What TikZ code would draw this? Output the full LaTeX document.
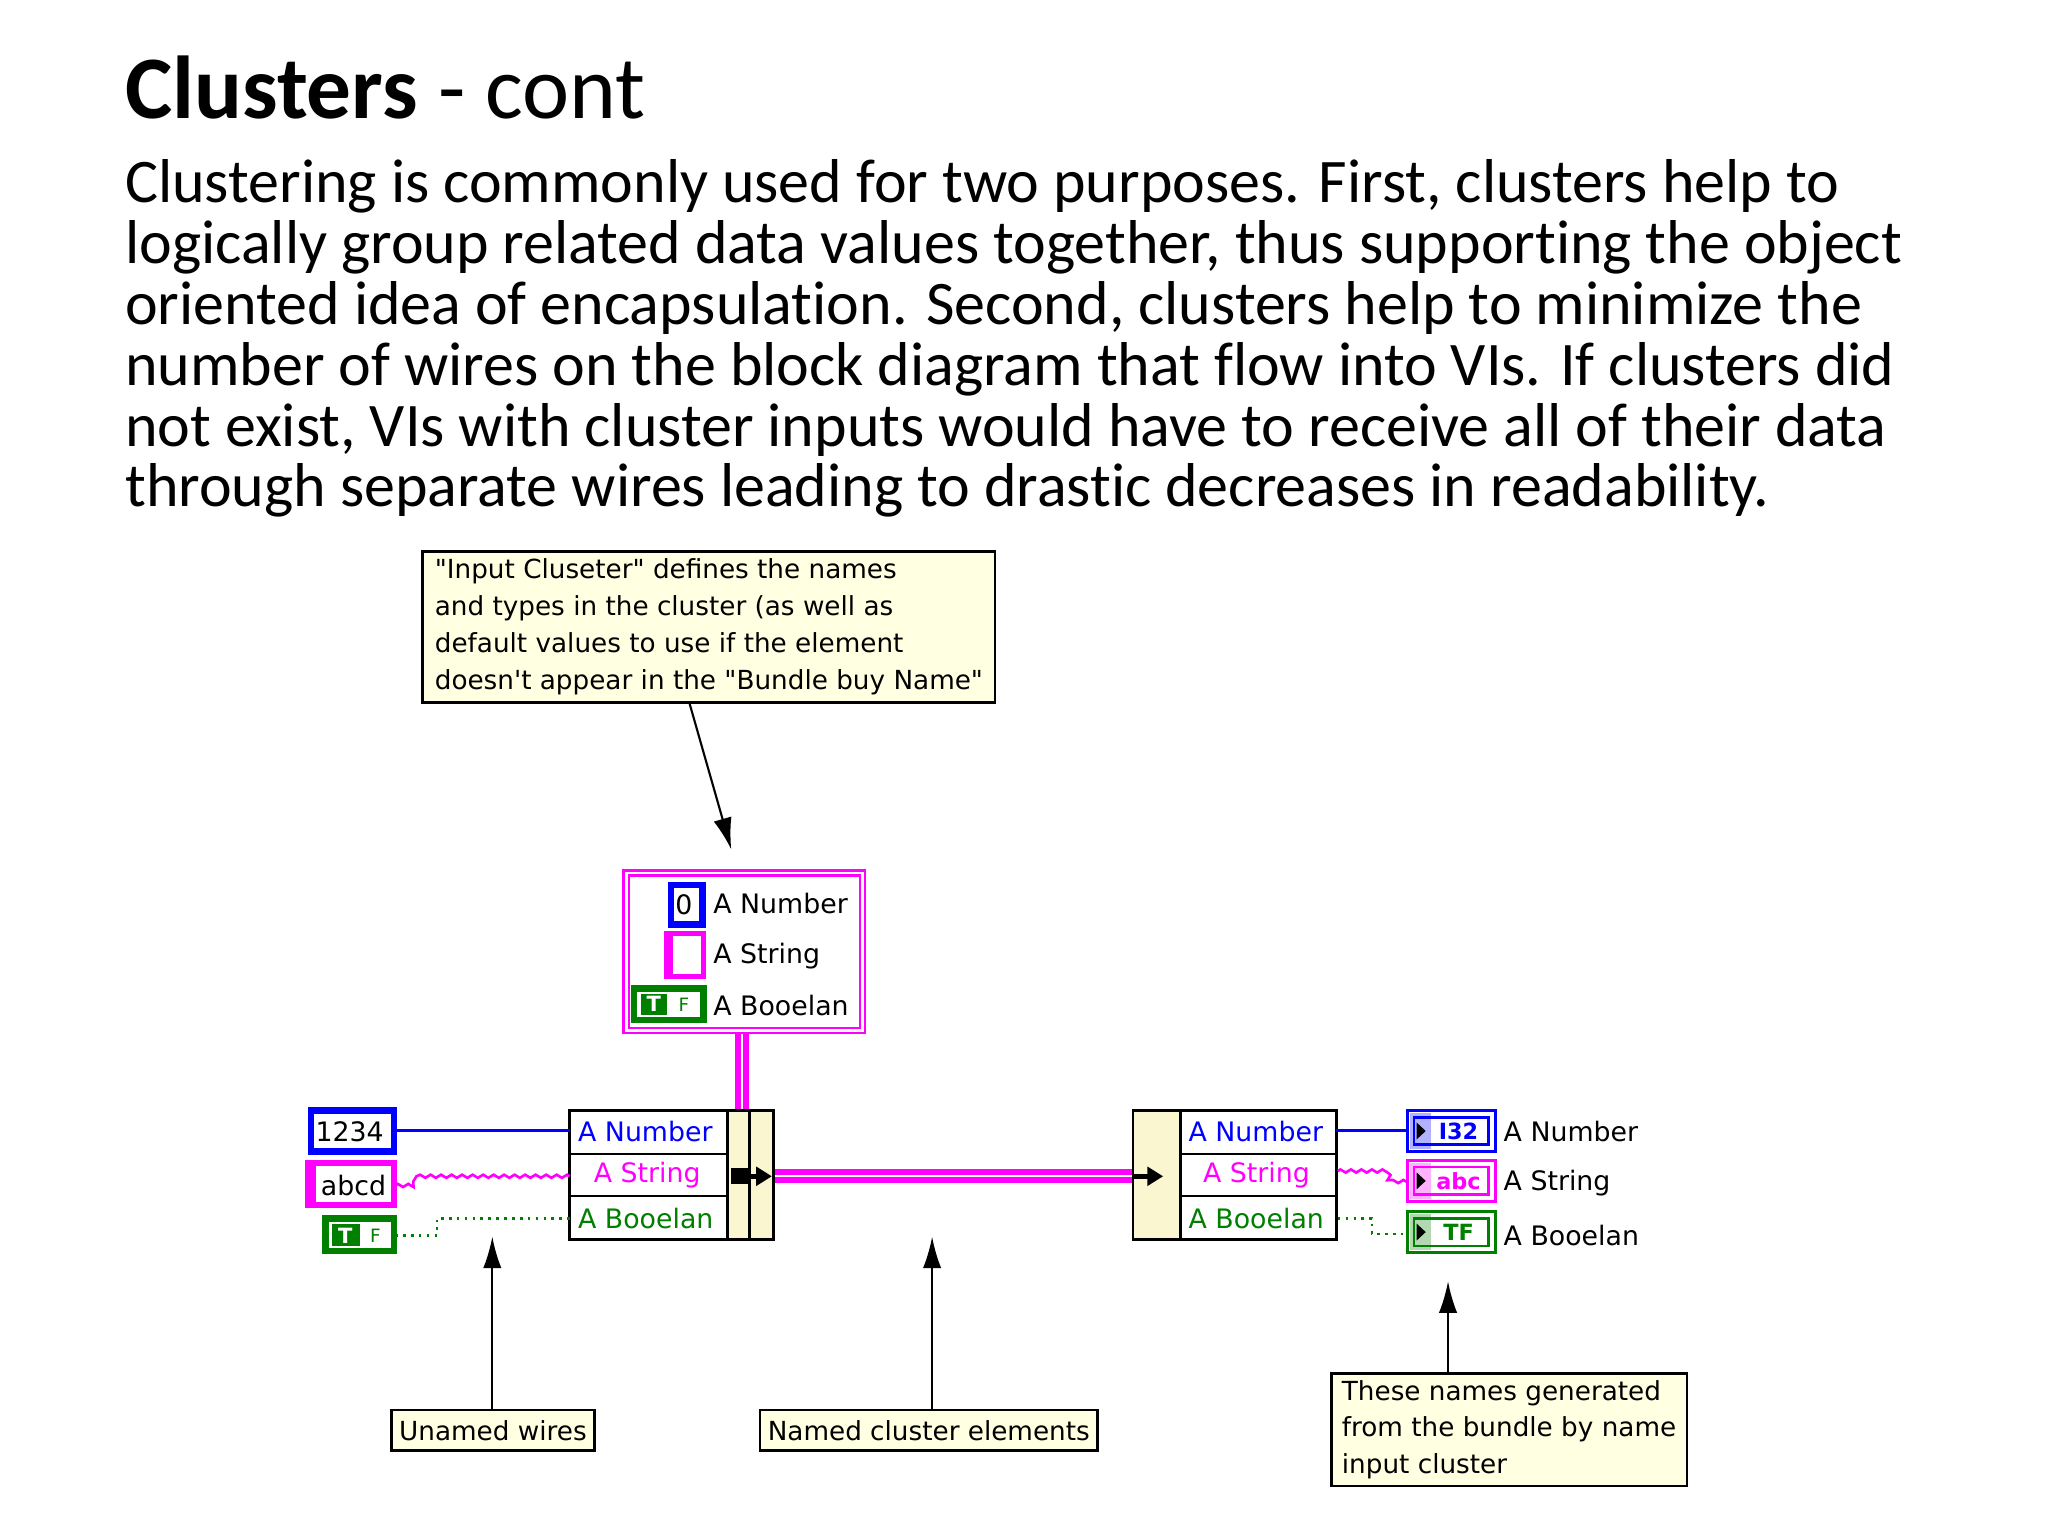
\documentclass[tikz,border=0pt]{standalone}
\usepackage{fontspec}
\setmainfont[Ligatures={NoCommon}]{Carlito}
\newfontfamily\lvfont{DejaVu Sans}
\usetikzlibrary{arrows.meta,decorations.pathmorphing}
\definecolor{cy}{HTML}{FFFFE1}
\definecolor{col}{HTML}{FAF7D0}
\definecolor{mg}{HTML}{FF00FF}
\definecolor{bl}{HTML}{0000FF}
\definecolor{gr}{HTML}{007F00}
\begin{document}
\begin{tikzpicture}[x=0.5pt,y=-0.5pt,
  call/.style={draw=black,fill=cy,line width=1pt,inner sep=1.5pt,align=left,font=\lvfont\fontsize{10}{14}\selectfont,anchor=north west},
  lbl/.style={inner sep=0pt,anchor=west,font=\lvfont\fontsize{10.2}{12}\selectfont},
  ar/.style={line width=0.8pt,-{Latex[length=12pt,width=7pt]}},
  box/.style={line width=1pt,draw=black},
  mwire/.style={draw=mg,line width=2.2pt,double=white,double distance=0.8pt},
  ]
\useasboundingbox (0,0) rectangle (1560,1170);
% text
\node[anchor=north west,inner sep=0pt,font=\fontsize{34}{40}\selectfont] (title) at (95,42) {\textbf{Clusters} - cont};
\node[anchor=north west,inner sep=0pt,align=left,font=\fontsize{23.6}{23.2}\selectfont] (body) at (95,121) {Clustering is commonly used for two purposes. First, clusters help to\\logically group related data values together, thus supporting the object\\oriented idea of encapsulation. Second, clusters help to minimize the\\number of wires on the block diagram that flow into VIs. If clusters did\\not exist, VIs with cluster inputs would have to receive all of their data\\through separate wires leading to drastic decreases in readability.};
% top callout
\node[call,minimum width=218pt,minimum height=57.5pt] (c1) at (321,419) {"Input Cluseter" defines the names\\and types in the cluster (as well as\\default values to use if the element\\doesn't appear in the "Bundle buy Name"};
\coordinate (c1t) at (557,647);
\draw[ar] (525,535) -- (c1t);
% input cluster
\draw[mg,line width=1pt] (475,663) rectangle (659,787);
\draw[mg,line width=1pt] (479,667) rectangle (655,783);
\draw[bl,line width=2.5pt,fill=white] (511,674) rectangle (535,704);
\node[lbl] at (514,689) {0};
\draw[mg,line width=2pt,fill=white] (508,711) rectangle (536,744);
\fill[mg] (507,710) rectangle (513,745);
\draw[gr,line width=2.5pt,fill=white] (483,753) rectangle (536,777);
\fill[gr] (488,757) rectangle (508,773);
\node[inner sep=0pt,text=white,font=\lvfont\bfseries\fontsize{8}{8}\selectfont] at (498,765) {T};
\node[inner sep=0pt,text=gr,font=\lvfont\fontsize{7}{7}\selectfont] at (521,765) {F};
\node[lbl] (in1) at (543,688) {A Number};
\node[lbl] (in2) at (543,728) {A String};
\node[lbl] (in3) at (543,766) {A Booelan};
% cluster wire down
\draw[mwire] (565,788) -- (565,846);
% left bundle
\draw[box,fill=white] (434,846) rectangle (554,944);
\draw[box] (434,879) -- (554,879) (434,911) -- (554,911);
\draw[box,fill=col] (554,846) rectangle (571,944);
\draw[box,fill=col] (571,846) rectangle (589,944);
\node[lbl,text=bl] at (440,862) {A Number};
\node[lbl,text=mg] at (452,895) {A String};
\node[lbl,text=gr] at (440,928) {A Booelan};
\fill (557,890) rectangle (571,902);
\draw[line width=2pt,-{Triangle[length=6pt,width=7pt]}] (571,896) -- (588,896);
% constants
\draw[bl,line width=2.5pt,fill=white] (237,846) rectangle (300,877);
\node[lbl] at (240,862) {1234};
\draw[mg,line width=2.5pt,fill=white] (235,886) rectangle (300,918);
\fill[mg] (234,885) rectangle (241,919);
\node[lbl] at (244,903) {abcd};
\draw[gr,line width=2.5pt,fill=white] (248,928) rectangle (300,953);
\fill[gr] (253,932) rectangle (274,949);
\node[inner sep=0pt,text=white,font=\lvfont\bfseries\fontsize{8}{8}\selectfont] at (263,941) {T};
\node[inner sep=0pt,text=gr,font=\lvfont\fontsize{7}{7}\selectfont] at (286,941) {F};
% left wires
\draw[bl,line width=1pt] (301,861) -- (434,861);
\draw[mg,line width=1pt,decorate,decoration={zigzag,segment length=4pt,amplitude=0.6pt}] (301,903) -- (316,903) -- (316,896) -- (434,896);
\draw[gr,line width=1pt,dotted] (301,941) -- (333,941) -- (333,928) -- (434,928);
% main cluster wire
\draw[mwire] (590,896) -- (864,896);
% right unbundle
\draw[box,fill=col] (863,846) rectangle (899,944);
\draw[line width=2pt,-{Triangle[length=6pt,width=7pt]}] (864,896) -- (886,896);
\draw[box,fill=white] (899,846) rectangle (1018,944);
\draw[box] (899,879) -- (1018,879) (899,911) -- (1018,911);
\node[lbl,text=bl] at (905,862) {A Number};
\node[lbl,text=mg] at (916,895) {A String};
\node[lbl,text=gr] at (905,928) {A Booelan};
% indicators
\foreach \y/\c/\t in {846/bl/I32,884/mg/abc,923/gr/TF}{
  \draw[\c,line width=1pt] (1072,\y) rectangle (1139,\y+31);
  \draw[\c,line width=1pt] (1077,\y+5) rectangle (1134,\y+26);
  \fill[\c,opacity=0.3] (1074,\y+2) rectangle (1090,\y+29);
  \fill (1079,\y+9) -- (1086,\y+15.5) -- (1079,\y+22) -- cycle;
  \node[inner sep=0pt,text=\c,font=\lvfont\bfseries\fontsize{8.5}{8.5}\selectfont] at (1111,\y+15.5) {\t};
}
\node[lbl] at (1145,862) {A Number};
\node[lbl] at (1145,901) {A String};
\node[lbl] at (1145,941) {A Booelan};
\draw[bl,line width=1pt] (1018,861) -- (1072,861);
\draw[mg,line width=1pt,decorate,decoration={zigzag,segment length=4pt,amplitude=0.6pt}] (1019,892) -- (1058,892) -- (1058,900) -- (1072,900);
\draw[gr,line width=1pt,dotted] (1019,928) -- (1045,928) -- (1045,940) -- (1072,940);
% bottom callouts
\node[call,minimum width=77.5pt,minimum height=15.5pt,inner sep=1pt] (c2) at (297,1073) {Unamed wires};
\node[call,minimum width=128.5pt,minimum height=15.5pt,inner sep=1pt] (c3) at (578,1073) {Named cluster elements};
\node[call,minimum width=135.5pt,minimum height=43pt,inner sep=1pt] (c4) at (1013,1045) {These names generated\\from the bundle by name\\input cluster};
\coordinate (a2) at (375,942);
\coordinate (a3) at (710,942);
\coordinate (a4) at (1103,976);
\draw[ar] (375,1073) -- (a2);
\draw[ar] (710,1073) -- (a3);
\draw[ar] (1103,1045) -- (a4);
\end{tikzpicture}
\end{document}
